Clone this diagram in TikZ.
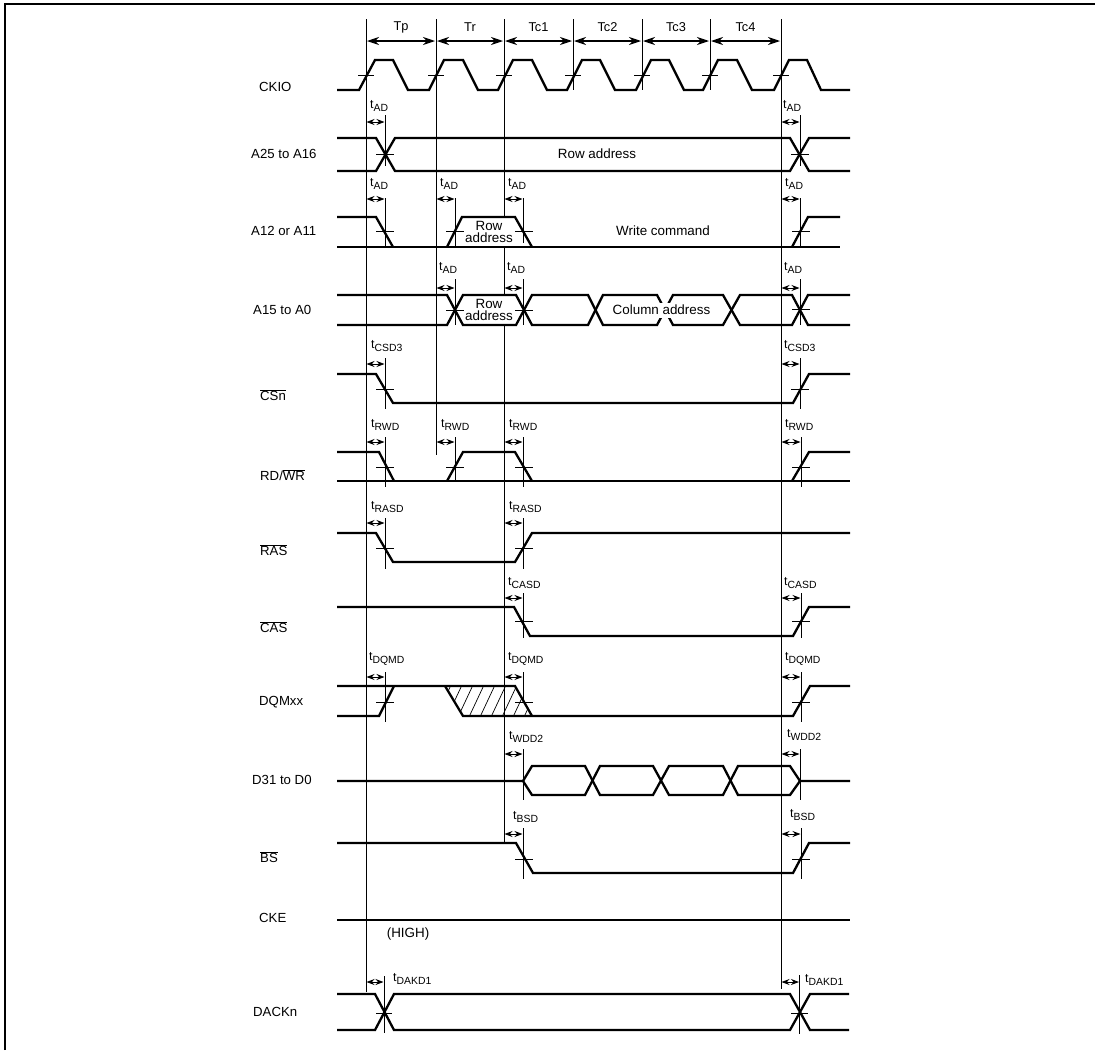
\documentclass[tikz,border=0pt]{standalone}
\usepackage{fontspec}
\setmainfont{Liberation Sans}
\usetikzlibrary{arrows.meta}
\newcounter{tlab}
\newcommand{\ovl}[1]{$\overline{\hbox{#1}}$}
\newcommand{\tsub}[1]{{\fontsize{12.4}{13}\selectfont t}{\fontsize{10.4}{11}\selectfont\raisebox{-2.6pt}{#1}}}
% timing mark: base x, tick x, arrow y, tick top y, tick bottom y
\newcommand{\tmk}[5]{\draw[thinl] (#2,#4) -- (#2,#5);\draw[timearrow] (#1,#3) -- (#2,#3);}
% crossing mark
\newcommand{\hm}[2]{\draw[thinl] (#1-9,#2) -- (#1+9,#2);}
% timing label: left x, centre y, subscript
\newcommand{\tl}[3]{\stepcounter{tlab}\node[tlabel] (tl\thetlab) at (#1,#2) {\tsub{#3}};}
\tikzset{
  sigline/.style={line width=2.3pt,black,line join=miter},
  thinl/.style={line width=1pt,black},
  vline/.style={line width=1pt,black},
  framel/.style={line width=2pt,black},
  timearrow/.style={line width=.9pt,{Stealth[length=8pt,width=6pt]}-{Stealth[length=8pt,width=6pt]},shorten <=.5pt,shorten >=.5pt},
  perarrow/.style={line width=1.1pt,{Stealth[length=12pt,width=8pt]}-{Stealth[length=12pt,width=8pt]},shorten <=1pt,shorten >=1pt},
  tlabel/.style={anchor=west,inner sep=0pt},
  siglabel/.style={anchor=west,inner sep=0pt,font=\fontsize{13.2}{14}\selectfont},
  toplabel/.style={inner sep=0pt,font=\fontsize{12.8}{14}\selectfont},
  txt/.style={inner sep=0pt,font=\fontsize{13.4}{14}\selectfont,align=center},
}
\begin{document}
\begin{tikzpicture}[x=1pt,y=-1pt]
\useasboundingbox (0,0) rectangle (1095,1050);
% frame
\draw[framel] (5,1050) -- (5,4) -- (1095,4);
% vertical reference lines
\draw[vline] (366,19) -- (366,992);
\draw[vline] (436,19) -- (436,455);
\draw[vline] (504,19) -- (504,217) (504,247) -- (504,295) (504,325) -- (504,843);
\foreach \x in {573,642,710} \draw[vline] (\x,19) -- (\x,90);
\draw[vline] (781,19) -- (781,989);
% period arrows
\foreach \a/\b/\t/\n in {366/436/Tp/p1,436/504/Tr/p2,504/573/Tc1/p3,573/642/Tc2/p4,642/710/Tc3/p5,710/781/Tc4/p6}{
  \draw[perarrow] (\a,41) -- (\b,41);
  \node[toplabel] (\n) at ({(\a+\b)/2},27) {\t};
}
% signal names
\node[siglabel] (nCKIO) at (259,87) {CKIO};
\node[siglabel] (nA25) at (251,154) {A25 to A16};
\node[siglabel] (nA12) at (251,231) {A12 or A11};
\node[siglabel] (nA15) at (253,310) {A15 to A0};
\node[siglabel] (nCS) at (260,395) {\ovl{CSn}};
\node[siglabel] (nRD) at (260,475) {RD/\ovl{WR}};
\node[siglabel] (nRAS) at (260,550) {\ovl{RAS}};
\node[siglabel] (nCAS) at (260,627) {\ovl{CAS}};
\node[siglabel] (nDQM) at (259,702) {DQMxx};
\node[siglabel] (nD) at (252,780) {D31 to D0};
\node[siglabel] (nBS) at (260,857) {\ovl{BS}};
\node[siglabel] (nCKE) at (259,918) {CKE};
\node[siglabel] (nDACK) at (253,1012) {DACKn};
% CKIO
\draw[sigline] (337,90)--(359,90)--(375,60)--(393,60)--(408,90)--(429,90)--(444,60)--(463,60)--(478,90)--(498,90)--(513,60)--(532,60)--(547,90)--(567,90)--(582,60)--(600,60)--(615,90)--(636,90)--(651,60)--(669,60)--(684,90)--(703,90)--(718,60)--(737,60)--(752,90)--(774,90)--(789,60)--(807,60)--(821,90)--(850,90);
\foreach \x in {366,436,504,573,642,710,781} \draw[thinl] (\x-8,75) -- (\x+8,75);
% A25 to A16
\draw[sigline] (337,138)--(376,138)--(395,171)--(790,171)--(809,138)--(850,138);
\draw[sigline] (337,171)--(376,171)--(395,138)--(790,138)--(809,171)--(850,171);
\tmk{366}{385}{122}{115}{166}\hm{385}{154}
\tmk{781}{800}{122}{115}{166}\hm{800}{154}
\tl{370}{106}{AD}\tl{783}{106}{AD}
\node[txt] (trow) at (597,154) {Row address};
% A12 or A11
\draw[sigline] (337,217)--(376,217)--(393,247);
\draw[sigline] (337,247)--(840,247);
\draw[sigline] (447,247)--(462,217)--(515,217)--(532,247);
\draw[sigline] (792,247)--(808,217)--(840,217);
\tmk{366}{385}{199}{198}{247}\hm{385}{231}
\tmk{436}{455}{199}{198}{247}\hm{455}{231}
\tmk{504}{523}{199}{198}{243}\hm{524}{231}
\tmk{781}{800}{199}{198}{247}\hm{801}{231}
\tl{370}{184}{AD}\tl{440}{184}{AD}\tl{508}{184}{AD}\tl{785}{184}{AD}
\node[txt] (rowa) at (489,232) {Row\\[-2.2pt]address};
\node[txt] (tw) at (663,231) {Write command};
% A15 to A0
\draw[sigline] (337,295)--(447,295)--(463,325)--(516,325)--(532,295)--(588,295)--(603,325)--(657,325)--(673,295)--(723,295)--(740,325)--(792,325)--(808,295)--(850,295);
\draw[sigline] (337,325)--(447,325)--(463,295)--(516,295)--(532,325)--(588,325)--(603,295)--(657,295)--(673,325)--(723,325)--(740,295)--(792,295)--(808,325)--(850,325);
\tmk{436}{455}{288}{279}{325}\hm{455}{310}
\tmk{504}{523}{288}{279}{325}\hm{524}{310}
\tmk{781}{800}{288}{279}{325}\hm{801}{309}
\tl{439}{268}{AD}\tl{507}{268}{AD}\tl{784}{268}{AD}
\node[txt] (rowb) at (489,310) {Row\\[-2.2pt]address};
\node[txt,fill=white,minimum height=15pt] (tc) at (661.5,310) {Column address};
% CSn
\draw[sigline] (337,374)--(376,374)--(393,403)--(793,403)--(809,374)--(850,374);
\tmk{366}{385}{364}{358}{409}\hm{385}{389}
\tmk{781}{800}{364}{358}{409}\hm{800}{389}
\tl{371}{346}{CSD3}\tl{784}{346}{CSD3}
% RD/WR
\draw[sigline] (337,481)--(850,481);
\draw[sigline] (337,452)--(379,452)--(394,481);
\draw[sigline] (447,481)--(463,452)--(515,452)--(532,481);
\draw[sigline] (792,481)--(809,452)--(850,452);
\tmk{366}{385}{442}{437}{487}\hm{385}{467}
\tmk{436}{455}{442}{437}{481}\hm{455}{467}
\tmk{504}{523}{442}{437}{487}\hm{524}{467}
\tmk{781}{801}{442}{437}{487}\hm{801}{467}
\tl{371}{425}{RWD}\tl{441}{425}{RWD}\tl{509}{425}{RWD}\tl{785}{425}{RWD}
% RAS
\draw[sigline] (337,533)--(376,533)--(393,562)--(515,562)--(532,533)--(850,533);
\tmk{366}{385}{523}{518}{569}\hm{385}{548}
\tmk{504}{523}{523}{518}{569}\hm{524}{548}
\tl{371}{507}{RASD}\tl{509}{507}{RASD}
% CAS
\draw[sigline] (337,607)--(514,607)--(530,636)--(793,636)--(809,607)--(850,607);
\tmk{504}{523}{598}{593}{638}\hm{524}{621}
\tmk{781}{801}{598}{593}{638}\hm{801}{621}
\tl{508}{583}{CASD}\tl{784}{583}{CASD}
% DQMxx
\begin{scope}
\clip (445,686)--(515,686)--(532,716)--(463,716)--cycle;
\foreach \x in {436,447,...,546} \draw[line width=.7pt] (\x,717) -- (\x+15,685);
\end{scope}
\draw[sigline] (337,686)--(515,686)--(532,716);
\draw[sigline] (337,716)--(379,716)--(394,686);
\draw[sigline] (445,686)--(463,716)--(793,716)--(810,686)--(850,686);
\tmk{366}{385}{677}{672}{722}\hm{385}{702}
\tmk{504}{523}{677}{672}{702}\hm{524}{702}
\tmk{781}{801}{677}{672}{722}\hm{801}{702}
\tl{369}{659}{DQMD}\tl{508}{659}{DQMD}\tl{785}{659}{DQMD}
% D31 to D0
\draw[sigline] (337,781)--(523,781)--(532,766)--(585,766)--(600,795)--(653,795)--(669,766)--(723,766)--(738,795)--(790,795)--(800,781)--(850,781);
\draw[sigline] (523,781)--(532,795)--(585,795)--(600,766)--(653,766)--(669,795)--(723,795)--(738,766)--(790,766)--(800,781);
\tmk{504}{523}{754}{749}{800}
\tmk{781}{800}{754}{749}{800}
\tl{509}{737}{WDD2}\tl{787}{735}{WDD2}
% BS
\draw[sigline] (337,843)--(516,843)--(533,873)--(793,873)--(809,843)--(850,843);
\tmk{504}{523}{834}{828}{879}\hm{524}{859}
\tmk{781}{801}{834}{828}{879}\hm{801}{859}
\tl{513}{817}{BSD}\tl{790}{815}{BSD}
% CKE
\draw[sigline] (337,920)--(850,920);
\node[txt] (thigh) at (408,934) {(HIGH)};
% DACKn
\draw[sigline] (337,994)--(375,994)--(394,1030)--(790,1030)--(810,994)--(849,994);
\draw[sigline] (337,1030)--(375,1030)--(394,994)--(790,994)--(810,1030)--(849,1030);
\tmk{366}{384}{982}{976}{1033}\draw[thinl] (376,1013)--(392,1013);
\tmk{781}{799.5}{982}{975}{1034}\draw[thinl] (791,1013)--(808,1013);
\tl{393}{979}{DAKD1}\tl{805}{980}{DAKD1}
\end{tikzpicture}
\end{document}
